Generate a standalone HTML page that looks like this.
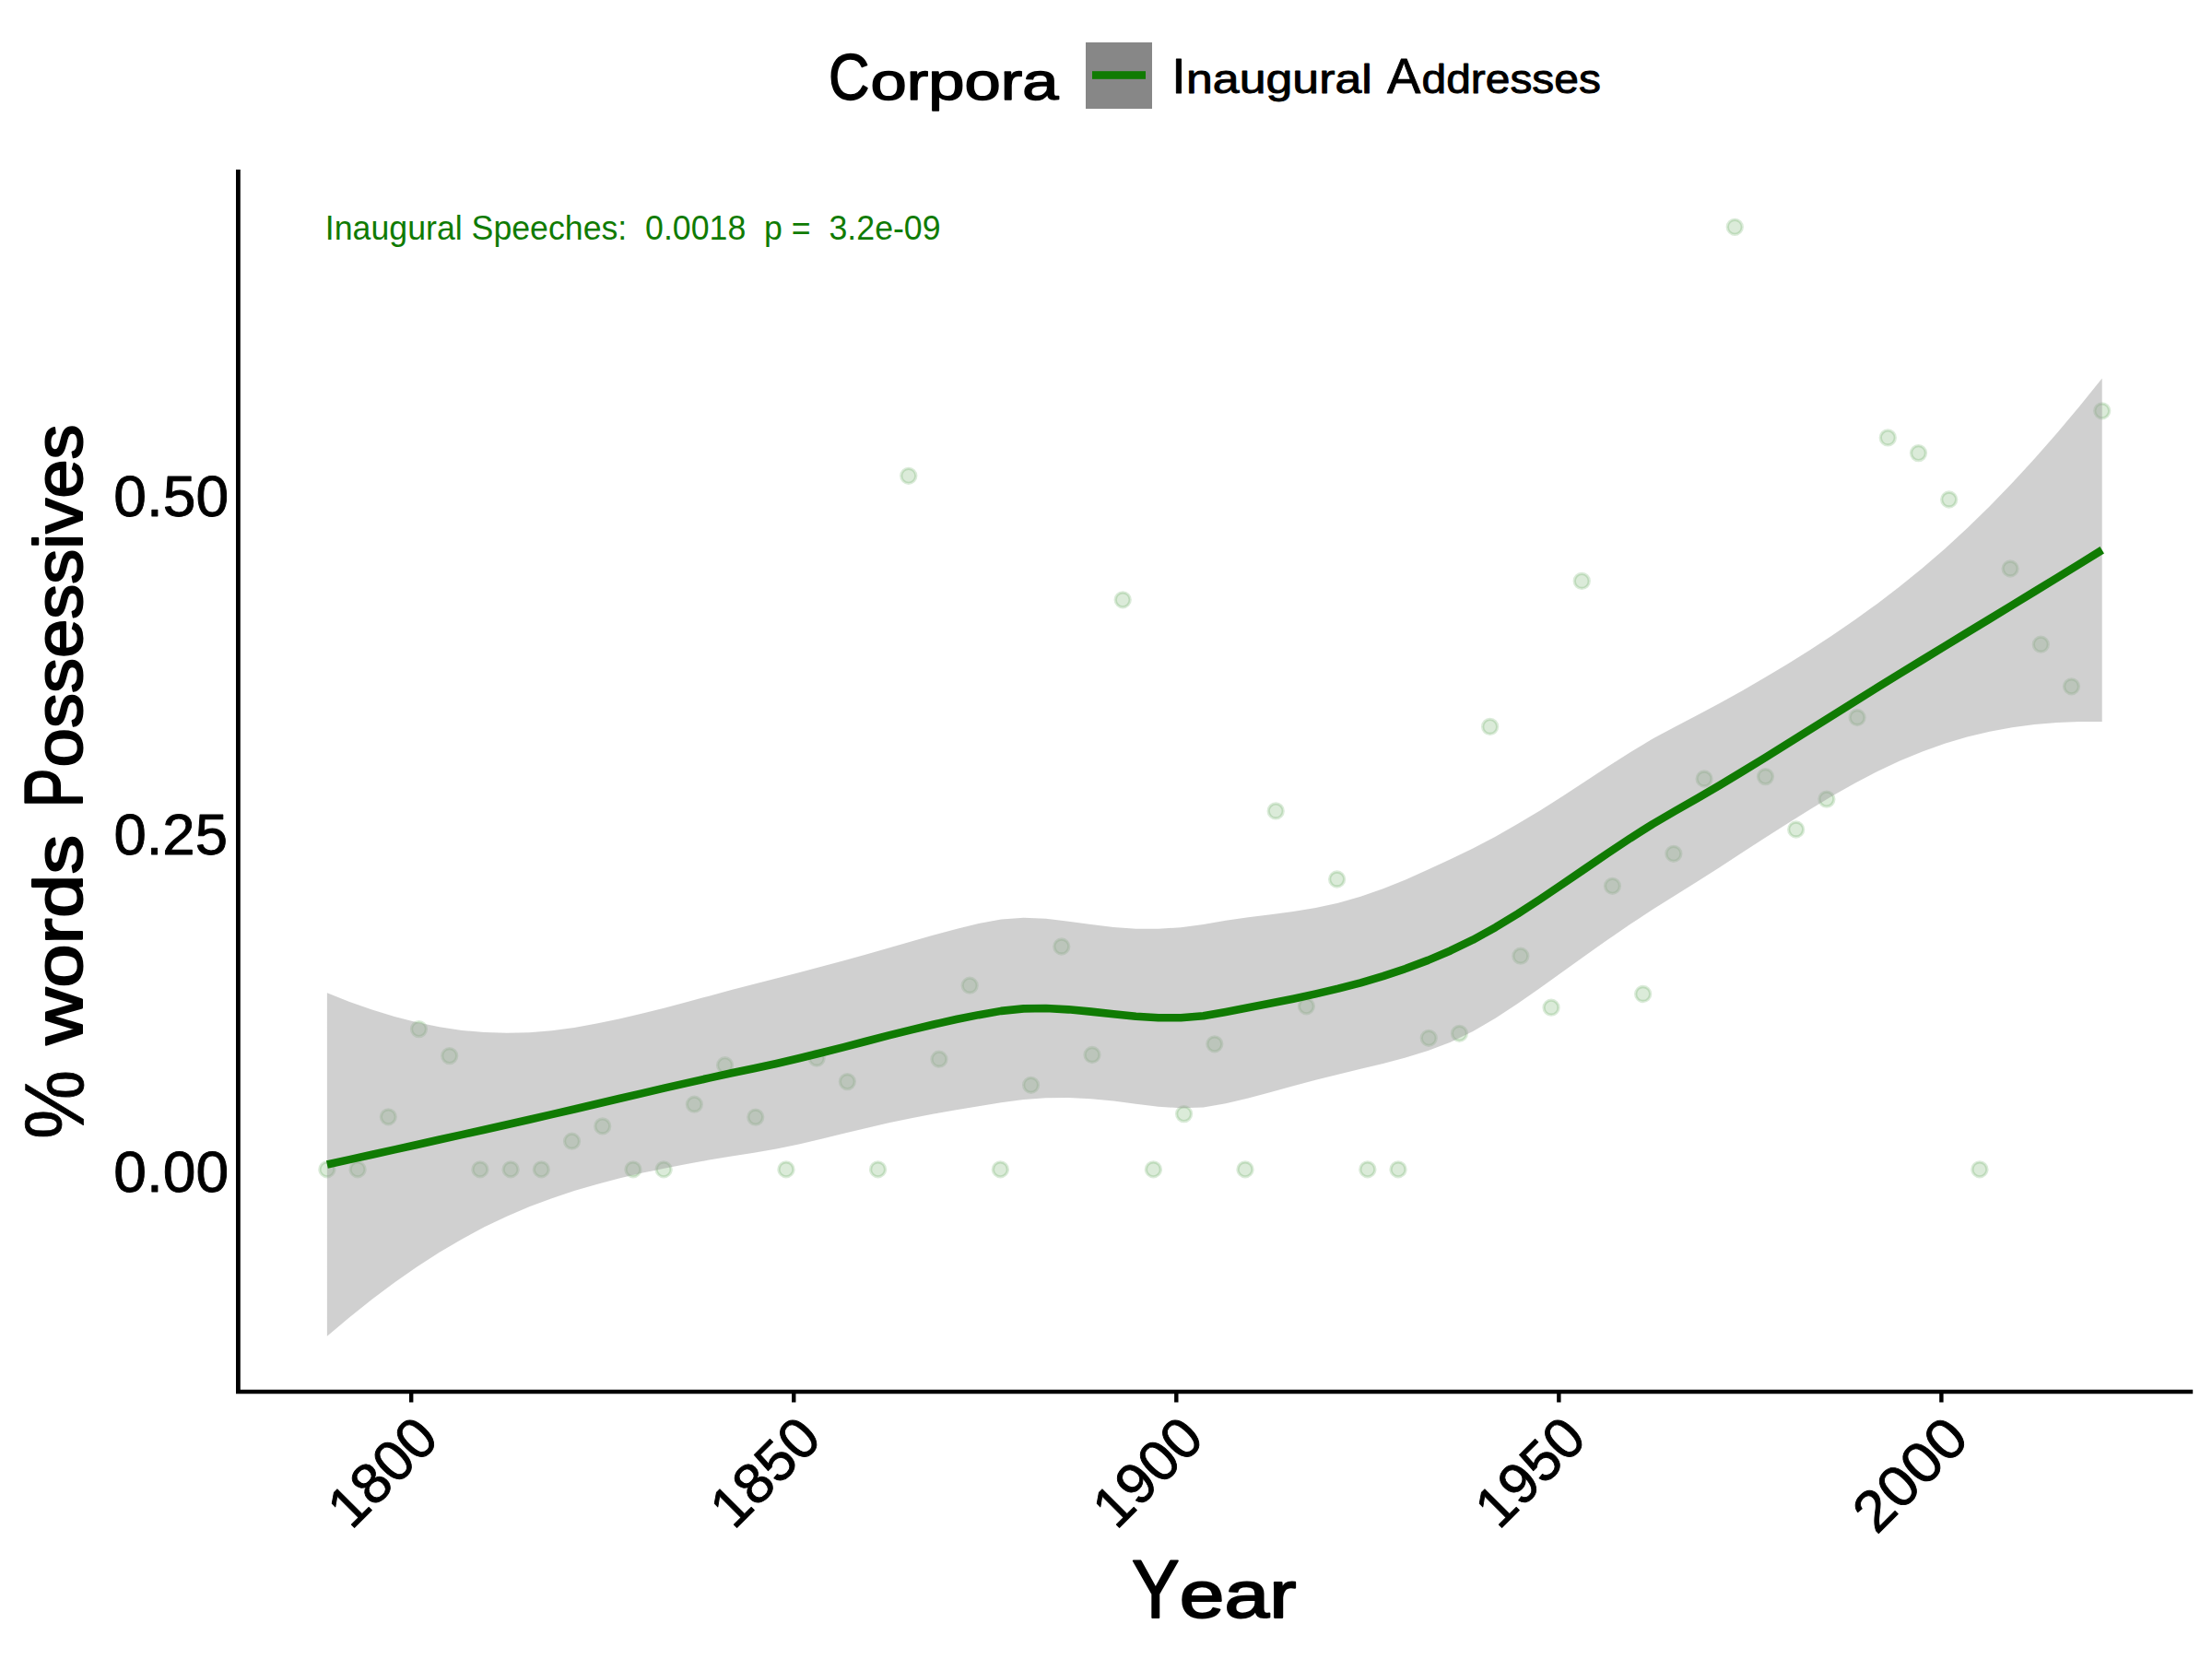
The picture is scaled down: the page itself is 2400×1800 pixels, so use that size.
<!DOCTYPE html><html><head><meta charset="utf-8"><style>html,body{margin:0;padding:0;background:#fff;}svg{display:block;font-family:"Liberation Sans",Arial,sans-serif;}text{white-space:pre;}</style></head><body>
<svg width="2400" height="1800" viewBox="0 0 2400 1800">
<rect width="2400" height="1800" fill="#fff"/>
<g fill="rgba(16,123,3,0.15)" stroke="rgba(16,123,3,0.15)" stroke-width="3.3"><circle cx="354.89" cy="1268.8" r="8"/><circle cx="388.09" cy="1268.8" r="8"/><circle cx="421.3" cy="1211.8" r="8"/><circle cx="454.5" cy="1116.6" r="8"/><circle cx="487.7" cy="1145.6" r="8"/><circle cx="520.91" cy="1268.8" r="8"/><circle cx="554.11" cy="1268.8" r="8"/><circle cx="587.32" cy="1268.8" r="8"/><circle cx="620.52" cy="1238.2" r="8"/><circle cx="653.73" cy="1221.9" r="8"/><circle cx="686.93" cy="1268.8" r="8"/><circle cx="720.13" cy="1268.8" r="8"/><circle cx="753.34" cy="1198.2" r="8"/><circle cx="786.54" cy="1155.7" r="8"/><circle cx="819.75" cy="1212.1" r="8"/><circle cx="852.95" cy="1268.8" r="8"/><circle cx="886.15" cy="1148.2" r="8"/><circle cx="919.36" cy="1173.6" r="8"/><circle cx="952.56" cy="1268.8" r="8"/><circle cx="985.77" cy="516.3" r="8"/><circle cx="1018.97" cy="1149.2" r="8"/><circle cx="1052.17" cy="1069.2" r="8"/><circle cx="1085.38" cy="1268.8" r="8"/><circle cx="1118.58" cy="1177.3" r="8"/><circle cx="1151.79" cy="1027" r="8"/><circle cx="1184.99" cy="1144.5" r="8"/><circle cx="1218.19" cy="650.8" r="8"/><circle cx="1251.4" cy="1268.8" r="8"/><circle cx="1284.6" cy="1208.6" r="8"/><circle cx="1317.81" cy="1132.8" r="8"/><circle cx="1351.01" cy="1268.8" r="8"/><circle cx="1384.21" cy="879.9" r="8"/><circle cx="1417.42" cy="1091.8" r="8"/><circle cx="1450.62" cy="954" r="8"/><circle cx="1483.83" cy="1268.8" r="8"/><circle cx="1517.03" cy="1268.8" r="8"/><circle cx="1550.23" cy="1126.3" r="8"/><circle cx="1583.44" cy="1121.3" r="8"/><circle cx="1616.64" cy="788.4" r="8"/><circle cx="1649.85" cy="1037.2" r="8"/><circle cx="1683.05" cy="1093.2" r="8"/><circle cx="1716.25" cy="630.4" r="8"/><circle cx="1749.46" cy="961.3" r="8"/><circle cx="1782.66" cy="1078.5" r="8"/><circle cx="1815.87" cy="926.3" r="8"/><circle cx="1849.07" cy="845" r="8"/><circle cx="1882.27" cy="246.3" r="8"/><circle cx="1915.48" cy="842.6" r="8"/><circle cx="1948.68" cy="900" r="8"/><circle cx="1981.88" cy="867.1" r="8"/><circle cx="2015.09" cy="778.5" r="8"/><circle cx="2048.29" cy="474.9" r="8"/><circle cx="2081.5" cy="491.6" r="8"/><circle cx="2114.7" cy="542" r="8"/><circle cx="2147.9" cy="1268.8" r="8"/><circle cx="2181.11" cy="617" r="8"/><circle cx="2214.31" cy="699.2" r="8"/><circle cx="2247.52" cy="744.8" r="8"/><circle cx="2280.72" cy="445.8" r="8"/></g>
<path d="M354.89,1077.29 L379.27,1086.97 L403.64,1095.59 L428.02,1103.08 L452.4,1109.36 L476.78,1114.33 L501.15,1117.94 L525.53,1120.12 L549.91,1120.86 L574.29,1120.17 L598.67,1118.14 L623.04,1114.89 L647.42,1110.62 L671.8,1105.53 L696.18,1099.81 L720.55,1093.65 L744.93,1087.21 L769.31,1080.66 L793.69,1074.11 L818.06,1067.7 L842.44,1061.41 L866.82,1055.14 L891.2,1048.8 L915.57,1042.29 L939.95,1035.54 L964.33,1028.57 L988.71,1021.47 L1013.08,1014.48 L1037.46,1007.9 L1061.84,1002.1 L1086.22,997.49 L1110.6,995.63 L1134.97,996.8 L1159.35,999.7 L1183.73,1003.09 L1208.11,1005.97 L1232.48,1007.64 L1256.86,1007.74 L1281.24,1006.19 L1305.62,1003.02 L1329.99,998.68 L1354.37,995.16 L1378.75,992.18 L1403.13,989.02 L1427.5,985.03 L1451.88,979.72 L1476.26,972.81 L1500.64,964.31 L1525.01,954.45 L1549.39,943.59 L1573.77,932.18 L1598.15,920.39 L1622.53,907.63 L1646.9,893.87 L1671.28,879.19 L1695.66,863.76 L1720.04,847.83 L1744.41,831.82 L1768.79,816.2 L1793.17,801.54 L1817.55,788.4 L1841.92,775.8 L1866.3,762.72 L1890.68,749.15 L1915.06,735.07 L1939.43,720.44 L1963.81,705.18 L1988.19,689.24 L2012.57,672.51 L2036.94,654.91 L2061.32,636.33 L2085.7,616.57 L2110.08,595.5 L2134.46,573.06 L2158.83,549.24 L2183.21,524.06 L2207.59,497.54 L2231.97,469.74 L2256.34,440.7 L2280.72,410.47 L2280.72,783.02 L2256.34,783.01 L2231.97,783.99 L2207.59,786.03 L2183.21,789.24 L2158.83,793.71 L2134.46,799.53 L2110.08,806.75 L2085.7,815.41 L2061.32,825.5 L2036.94,836.98 L2012.57,849.73 L1988.19,863.56 L1963.81,878.22 L1939.43,893.47 L1915.06,909.09 L1890.68,924.87 L1866.3,940.63 L1841.92,956.19 L1817.55,971.38 L1793.17,986.71 L1768.79,1002.84 L1744.41,1019.6 L1720.04,1036.85 L1695.66,1054.37 L1671.28,1071.83 L1646.9,1088.79 L1622.53,1104.69 L1598.15,1118.9 L1573.77,1130.76 L1549.39,1140.12 L1525.01,1147.61 L1500.64,1153.94 L1476.26,1159.78 L1451.88,1165.64 L1427.5,1171.81 L1403.13,1178.33 L1378.75,1184.97 L1354.37,1191.38 L1329.99,1197.14 L1305.62,1201.47 L1281.24,1202.37 L1256.86,1200.69 L1232.48,1197.7 L1208.11,1194.57 L1183.73,1192.15 L1159.35,1190.98 L1134.97,1191.29 L1110.6,1193.07 L1086.22,1196.27 L1061.84,1200.21 L1037.46,1204.24 L1013.08,1208.53 L988.71,1213.22 L964.33,1218.36 L939.95,1223.93 L915.57,1229.8 L891.2,1235.73 L866.82,1241.42 L842.44,1246.5 L818.06,1250.67 L793.69,1254.5 L769.31,1258.57 L744.93,1262.94 L720.55,1267.66 L696.18,1272.84 L671.8,1278.56 L647.42,1284.94 L623.04,1292.11 L598.67,1300.2 L574.29,1309.35 L549.91,1319.7 L525.53,1331.37 L501.15,1344.4 L476.78,1358.8 L452.4,1374.54 L428.02,1391.57 L403.64,1409.83 L379.27,1429.28 L354.89,1449.85 Z" fill="rgba(153,153,153,0.46)"/>
<path d="M354.89,1263.57 L379.27,1258.12 L403.64,1252.71 L428.02,1247.33 L452.4,1241.95 L476.78,1236.57 L501.15,1231.17 L525.53,1225.75 L549.91,1220.28 L574.29,1214.76 L598.67,1209.17 L623.04,1203.5 L647.42,1197.78 L671.8,1192.04 L696.18,1186.32 L720.55,1180.66 L744.93,1175.07 L769.31,1169.61 L793.69,1164.3 L818.06,1159.18 L842.44,1153.96 L866.82,1148.28 L891.2,1142.27 L915.57,1136.05 L939.95,1129.74 L964.33,1123.46 L988.71,1117.35 L1013.08,1111.51 L1037.46,1106.07 L1061.84,1101.15 L1086.22,1096.88 L1110.6,1094.35 L1134.97,1094.05 L1159.35,1095.34 L1183.73,1097.62 L1208.11,1100.27 L1232.48,1102.67 L1256.86,1104.21 L1281.24,1104.28 L1305.62,1102.25 L1329.99,1097.91 L1354.37,1093.27 L1378.75,1088.58 L1403.13,1083.67 L1427.5,1078.42 L1451.88,1072.68 L1476.26,1066.29 L1500.64,1059.13 L1525.01,1051.03 L1549.39,1041.86 L1573.77,1031.47 L1598.15,1019.64 L1622.53,1006.16 L1646.9,991.33 L1671.28,975.51 L1695.66,959.06 L1720.04,942.34 L1744.41,925.71 L1768.79,909.52 L1793.17,894.13 L1817.55,879.89 L1841.92,865.99 L1866.3,851.68 L1890.68,837.01 L1915.06,822.08 L1939.43,806.95 L1963.81,791.7 L1988.19,776.4 L2012.57,761.12 L2036.94,745.94 L2061.32,730.92 L2085.7,715.99 L2110.08,701.12 L2134.46,686.29 L2158.83,671.48 L2183.21,656.65 L2207.59,641.79 L2231.97,626.86 L2256.34,611.86 L2280.72,596.74" fill="none" stroke="#107b03" stroke-width="8.6" stroke-linecap="butt" stroke-linejoin="round"/>
<path d="M258.4,183.9 V1512.1" stroke="#000" stroke-width="4.8" fill="none" stroke-linecap="butt"/>
<path d="M256,1509.95 H2379.2" stroke="#000" stroke-width="4.4" fill="none" stroke-linecap="butt"/>
<path d="M446.2,1512 V1521.5 M861.25,1512 V1521.5 M1276.3,1512 V1521.5 M1691.35,1512 V1521.5 M2106.4,1512 V1521.5" stroke="#000" stroke-width="4.4" fill="none"/>
<text transform="translate(352.85,259.9) scale(0.9864,1)" font-size="36.2" fill="#107b03">Inaugural Speeches:  0.0018  p =  3.2e-09</text>
<text transform="translate(123.37,559.65) scale(1.0265,1)" font-size="62.5" fill="#000" stroke="#000" stroke-width="0.9" stroke-linejoin="round">0.50</text>
<text transform="translate(123.39,926.55) scale(1.0157,1)" font-size="62.5" fill="#000" stroke="#000" stroke-width="0.9" stroke-linejoin="round">0.25</text>
<text transform="translate(123.37,1293.15) scale(1.0265,1)" font-size="62.5" fill="#000" stroke="#000" stroke-width="0.9" stroke-linejoin="round">0.00</text>
<text transform="translate(446.2,1534.6) rotate(-45) translate(-135.21,43.25) scale(0.9969,1)" font-size="62" fill="#000" stroke="#000" stroke-width="0.9" stroke-linejoin="round">1800</text>
<text transform="translate(861.25,1534.6) rotate(-45) translate(-135.21,43.25) scale(0.9969,1)" font-size="62" fill="#000" stroke="#000" stroke-width="0.9" stroke-linejoin="round">1850</text>
<text transform="translate(1276.3,1534.6) rotate(-45) translate(-135.21,43.25) scale(0.9969,1)" font-size="62" fill="#000" stroke="#000" stroke-width="0.9" stroke-linejoin="round">1900</text>
<text transform="translate(1691.35,1534.6) rotate(-45) translate(-135.21,43.25) scale(0.9969,1)" font-size="62" fill="#000" stroke="#000" stroke-width="0.9" stroke-linejoin="round">1950</text>
<text transform="translate(2106.4,1534.6) rotate(-45) translate(-142.71,43.25) scale(1.0519,1)" font-size="62" fill="#000" stroke="#000" stroke-width="0.9" stroke-linejoin="round">2000</text>
<text y="1755" font-size="72.3" fill="#000" stroke="#000" stroke-width="2" stroke-linejoin="round"><tspan x="1227.99" font-size="89" textLength="51.64" lengthAdjust="spacingAndGlyphs">Y</tspan><tspan x="1279.89" font-size="72.3" textLength="126.48" lengthAdjust="spacingAndGlyphs">ear</tspan></text>
<text transform="translate(90.2,0) rotate(-90)" y="-0.4" font-size="91.4" fill="#000" stroke="#000" stroke-width="0.8" stroke-linejoin="round"><tspan x="-1236.1" font-size="91.4" textLength="75.07" lengthAdjust="spacingAndGlyphs">%</tspan></text>
<text transform="translate(90.2,0) rotate(-90)" y="-1" font-size="74.4" fill="#000" stroke="#000" stroke-width="2" stroke-linejoin="round"><tspan x="-1133.41" font-size="74.4" textLength="227.43" lengthAdjust="spacingAndGlyphs">words</tspan></text>
<text transform="translate(90.2,0) rotate(-90)" y="-1" font-size="74.4" fill="#000" stroke="#000" stroke-width="2" stroke-linejoin="round"><tspan x="-876.17" font-size="88.2" textLength="42.74" lengthAdjust="spacingAndGlyphs">P</tspan><tspan x="-832.4" font-size="74.4" textLength="371.93" lengthAdjust="spacingAndGlyphs">ossessives</tspan></text>
<text y="108.25" font-size="57.8" fill="#000" stroke="#000" stroke-width="1.5" stroke-linejoin="round"><tspan x="898.9" font-size="69.8" textLength="44.43" lengthAdjust="spacingAndGlyphs">C</tspan><tspan x="944.49" font-size="57.8" textLength="204.03" lengthAdjust="spacingAndGlyphs">orpora</tspan></text>
<rect x="1178" y="46" width="72" height="72" fill="#878787"/>
<rect x="1185" y="77.2" width="58" height="8.6" fill="#107b03"/>
<text y="101.35" font-size="43.5" fill="#000" stroke="#000" stroke-width="0.9" stroke-linejoin="round"><tspan x="1271.34" font-size="53.3" textLength="15.34" lengthAdjust="spacingAndGlyphs">I</tspan><tspan x="1286.99" font-size="43.5" textLength="201.76" lengthAdjust="spacingAndGlyphs">naugural</tspan></text>
<text y="101.35" font-size="43.5" fill="#000" stroke="#000" stroke-width="0.9" stroke-linejoin="round"><tspan x="1505.01" font-size="54.5" textLength="36.35" lengthAdjust="spacingAndGlyphs">A</tspan><tspan x="1542.51" font-size="43.5" textLength="194.39" lengthAdjust="spacingAndGlyphs">ddresses</tspan></text>
</svg></body></html>
